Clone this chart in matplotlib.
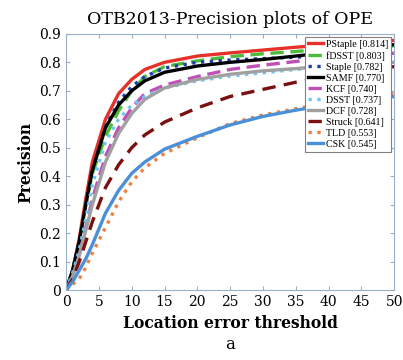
import matplotlib
matplotlib.use("Agg")
import matplotlib.pyplot as plt

# Data (location error threshold -> precision)
thresholds = [0, 1, 2, 3, 4, 6, 8, 10, 12, 15, 20, 25, 30, 35, 40, 45, 50]

pstaple = [0, 0.07, 0.18, 0.32, 0.45, 0.60, 0.69, 0.74, 0.775, 0.80, 0.822, 0.833, 0.843, 0.853, 0.862, 0.869, 0.877]
fdsst   = [0, 0.07, 0.17, 0.30, 0.41, 0.54, 0.63, 0.70, 0.75, 0.785, 0.805, 0.82, 0.83, 0.838, 0.847, 0.853, 0.858]
staple  = [0, 0.07, 0.17, 0.30, 0.42, 0.575, 0.66, 0.715, 0.75, 0.78, 0.80, 0.808, 0.813, 0.818, 0.825, 0.832, 0.84]
samf    = [0, 0.07, 0.17, 0.30, 0.42, 0.57, 0.65, 0.70, 0.735, 0.765, 0.787, 0.80, 0.81, 0.822, 0.835, 0.848, 0.862]
kcf     = [0, 0.05, 0.12, 0.22, 0.32, 0.47, 0.57, 0.64, 0.69, 0.72, 0.75, 0.775, 0.79, 0.803, 0.815, 0.823, 0.832]
dsst    = [0, 0.06, 0.14, 0.25, 0.37, 0.52, 0.60, 0.65, 0.68, 0.71, 0.735, 0.752, 0.763, 0.775, 0.782, 0.787, 0.792]
dcf     = [0, 0.05, 0.12, 0.21, 0.30, 0.45, 0.55, 0.62, 0.67, 0.71, 0.74, 0.758, 0.77, 0.778, 0.787, 0.795, 0.80]
struck  = [0, 0.04, 0.10, 0.17, 0.24, 0.36, 0.44, 0.50, 0.545, 0.59, 0.64, 0.68, 0.705, 0.73, 0.75, 0.77, 0.785]
tld     = [0, 0.02, 0.04, 0.08, 0.13, 0.22, 0.31, 0.38, 0.43, 0.48, 0.535, 0.585, 0.615, 0.637, 0.658, 0.675, 0.69]
csk     = [0, 0.03, 0.07, 0.11, 0.16, 0.27, 0.35, 0.41, 0.45, 0.495, 0.54, 0.58, 0.61, 0.632, 0.65, 0.665, 0.68]

labels = ["PStaple [0.814]", "fDSST [0.803]", "Staple [0.782]", "SAMF [0.770]", "KCF [0.740]",
          "DSST [0.737]", "DCF [0.728]", "Struck [0.641]", "TLD [0.553]", "CSK [0.545]"]
series = [pstaple, fdsst, staple, samf, kcf, dsst, dcf, struck, tld, csk]
colors = ["#e8302a", "#4cbb3a", "#1f3fa8", "#000000", "#c050b8",
          "#6cc8f0", "#a0a0a0", "#7a1010", "#f08040", "#4a90d8"]
styles = ["-", (0, (4, 2)), ":", "-", (0, (4, 2)), ":", "-", (0, (4, 2.5)), ":", "-"]

plt.rcParams['font.family'] = ['DejaVu Serif']

fig = plt.figure(figsize=(4.03, 3.60), dpi=100)
ax = fig.add_axes([0.164, 0.194, 0.814, 0.712])

for ys, lab, c, ls in zip(series, labels, colors, styles):
    ax.plot(thresholds, ys, color=c, linestyle=ls, lw=2.4, label=lab)

ax.set_xlim(0, 50)
ax.set_ylim(0, 0.9)
ax.set_xticks(range(0, 51, 5))
ax.set_yticks([0, 0.1, 0.2, 0.3, 0.4, 0.5, 0.6, 0.7, 0.8, 0.9])
ax.set_yticklabels(["0", "0.1", "0.2", "0.3", "0.4", "0.5", "0.6", "0.7", "0.8", "0.9"])
ax.tick_params(direction="in", top=True, right=True, labelsize=10, length=3, color="#9ab0c8")
for s in ax.spines.values():
    s.set_color("#9ab0c8")

ax.set_title("OTB2013-Precision plots of OPE", fontsize=12.5, pad=7)
ax.set_xlabel("Location error threshold", fontsize=11.2, fontweight="bold", labelpad=4)
ax.set_ylabel("Precision", fontsize=11.2, fontweight="bold", labelpad=4)
fig.text(0.57, 0.03, "a", fontsize=12, ha="center")

leg = ax.legend(loc="upper right", handlelength=1.5, handletextpad=0.3,
                labelspacing=0.2, borderpad=0.3, borderaxespad=0.3,
                fancybox=False, framealpha=1, edgecolor="#808080",
                prop={"family": "Liberation Serif", "size": 7.2})
leg.get_frame().set_linewidth(0.8)

fig.savefig("out.png", dpi=100)
